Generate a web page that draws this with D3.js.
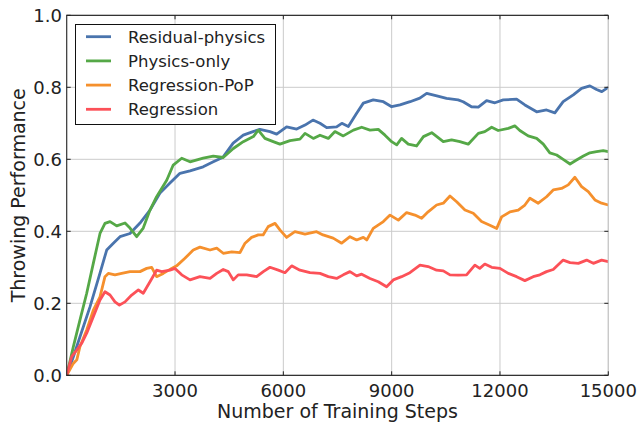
<!DOCTYPE html>
<html lang="en">
<head>
    <meta charset="UTF-8">
    <title>Throwing Performance</title>
    <script src="https://d3js.org/d3.v7.min.js"></script>
    <style>
        body, html {
            margin: 0;
            background: #fff;
        }
        text {
            font-family: "DejaVu Sans", sans-serif;
            fill: #222;
        }
        .grid line {
            stroke: #cbcbcb;
            stroke-width: 1;
        }
    </style>
</head>
<body>
<svg width="641" height="424"></svg>
<script>
    // Valores: [passo, desempenho]
    const residualPhysics = [[0,0],[180,0.05],[368,0.107],[645,0.19],[922,0.284],[1108,0.348],[1292,0.367],[1476,0.385],[1753,0.394],[2030,0.423],[2307,0.459],[2584,0.506],[2860,0.534],[3137,0.561],[3415,0.568],[3780,0.579],[4060,0.593],[4330,0.606],[4610,0.645],[4890,0.667],[5160,0.677],[5350,0.683],[5630,0.677],[5815,0.670],[6090,0.690],[6370,0.684],[6600,0.695],[6820,0.709],[7015,0.70],[7200,0.688],[7475,0.69],[7620,0.70],[7800,0.691],[8030,0.728],[8215,0.756],[8490,0.765],[8770,0.76],[9000,0.746],[9230,0.751],[9510,0.76],[9780,0.77],[9970,0.783],[10250,0.776],[10520,0.769],[10840,0.765],[10980,0.76],[11210,0.746],[11400,0.745],[11630,0.763],[11860,0.757],[12090,0.765],[12460,0.767],[12690,0.751],[13015,0.732],[13290,0.737],[13520,0.729],[13750,0.76],[14030,0.779],[14260,0.797],[14490,0.804],[14675,0.794],[14820,0.788],[15000,0.80]];
    const physicsOnly = [[0,0],[183,0.079],[368,0.154],[554,0.228],[737,0.311],[922,0.394],[1060,0.422],[1200,0.427],[1385,0.415],[1615,0.423],[1753,0.409],[1938,0.385],[2120,0.409],[2307,0.459],[2490,0.496],[2770,0.542],[2950,0.584],[3185,0.603],[3415,0.593],[3780,0.603],[4060,0.609],[4335,0.605],[4615,0.63],[4890,0.649],[5170,0.663],[5305,0.681],[5490,0.658],[5720,0.649],[5905,0.642],[6185,0.652],[6460,0.656],[6600,0.672],[6830,0.658],[7015,0.667],[7245,0.658],[7430,0.677],[7660,0.665],[7940,0.681],[8170,0.689],[8400,0.681],[8630,0.683],[8815,0.667],[9000,0.649],[9140,0.64],[9275,0.658],[9460,0.642],[9690,0.637],[9880,0.663],[10110,0.674],[10430,0.649],[10660,0.654],[10890,0.649],[11120,0.642],[11400,0.672],[11580,0.677],[11770,0.689],[11950,0.68],[12230,0.686],[12410,0.693],[12550,0.68],[12780,0.665],[13015,0.658],[13200,0.642],[13380,0.618],[13570,0.612],[13750,0.60],[13940,0.587],[14120,0.598],[14310,0.609],[14490,0.618],[14675,0.621],[14860,0.624],[15000,0.621]];
    const regressionPoP = [[0,0],[183,0.033],[280,0.043],[368,0.08],[554,0.126],[737,0.181],[922,0.218],[1060,0.274],[1152,0.283],[1337,0.279],[1523,0.283],[1753,0.288],[2030,0.288],[2215,0.297],[2354,0.30],[2490,0.274],[2675,0.283],[2907,0.297],[3045,0.304],[3275,0.325],[3505,0.348],[3690,0.356],[3970,0.348],[4155,0.353],[4335,0.339],[4570,0.343],[4800,0.341],[4940,0.367],[5120,0.383],[5305,0.39],[5440,0.39],[5580,0.413],[5770,0.422],[5905,0.404],[6090,0.383],[6320,0.399],[6600,0.392],[6920,0.399],[7100,0.39],[7380,0.381],[7615,0.367],[7845,0.385],[8030,0.376],[8215,0.383],[8310,0.376],[8490,0.408],[8770,0.427],[8955,0.445],[9185,0.431],[9415,0.452],[9645,0.445],[9830,0.436],[10010,0.454],[10245,0.473],[10430,0.478],[10615,0.498],[10800,0.482],[11030,0.459],[11260,0.45],[11490,0.427],[11720,0.417],[11910,0.408],[12045,0.44],[12275,0.454],[12505,0.459],[12690,0.473],[12830,0.492],[13060,0.478],[13290,0.496],[13475,0.515],[13705,0.519],[13890,0.529],[14075,0.55],[14260,0.524],[14445,0.51],[14630,0.487],[14815,0.478],[15000,0.473]];
    const regression = [[0,0],[138,0.052],[277,0.07],[415,0.089],[554,0.117],[737,0.163],[922,0.209],[1060,0.232],[1200,0.223],[1337,0.204],[1460,0.195],[1615,0.204],[1800,0.223],[1985,0.237],[2120,0.228],[2307,0.26],[2490,0.292],[2630,0.288],[2860,0.292],[3000,0.297],[3185,0.279],[3415,0.265],[3690,0.274],[3970,0.269],[4155,0.283],[4335,0.294],[4475,0.288],[4615,0.265],[4750,0.279],[4985,0.279],[5260,0.274],[5445,0.288],[5630,0.30],[5860,0.292],[6045,0.285],[6230,0.304],[6460,0.292],[6737,0.285],[7015,0.283],[7245,0.274],[7475,0.269],[7660,0.279],[7845,0.288],[8030,0.276],[8170,0.281],[8400,0.269],[8630,0.26],[8860,0.246],[9045,0.265],[9275,0.274],[9505,0.285],[9785,0.306],[10010,0.302],[10245,0.292],[10430,0.29],[10615,0.279],[10840,0.278],[11075,0.279],[11305,0.306],[11440,0.297],[11580,0.309],[11770,0.30],[12000,0.297],[12230,0.283],[12460,0.274],[12690,0.263],[12920,0.274],[13105,0.279],[13290,0.288],[13475,0.294],[13750,0.32],[13940,0.313],[14170,0.311],[14400,0.32],[14585,0.311],[14815,0.32],[15000,0.316]];

    const seriesNames = ["Residual-physics", "Physics-only", "Regression-PoP", "Regression"];
    const seriesColors = ["#4a74ad", "#55a847", "#f5902d", "#fc5158"];
    const xTicks = [3000, 6000, 9000, 12000, 15000];
    const yTicks = [0, 0.2, 0.4, 0.6, 0.8, 1.0];

    const series = [residualPhysics, physicsOnly, regressionPoP, regression];

    const svg = d3.select("svg");
    const mLeft = 66.7, mRight = 608.3, mTop = 15.3, mBottom = 375.3;

    const x = d3.scaleLinear().domain([0, 15000]).range([mLeft, mRight]);
    const y = d3.scaleLinear().domain([0, 1]).range([mBottom, mTop]);

    // Grade
    const grid = svg.append("g").attr("class", "grid");
    grid.selectAll(".gx").data(xTicks).enter().append("line")
        .attr("x1", d => x(d)).attr("x2", d => x(d))
        .attr("y1", mTop).attr("y2", mBottom);
    grid.selectAll(".gy").data(yTicks).enter().append("line")
        .attr("x1", mLeft).attr("x2", mRight)
        .attr("y1", d => y(d)).attr("y2", d => y(d));

    // Linhas
    svg.append("clipPath").attr("id", "clip")
        .append("rect").attr("x", mLeft).attr("y", mTop)
        .attr("width", mRight - mLeft).attr("height", mBottom - mTop);

    const line = d3.line().x(d => x(d[0])).y(d => y(d[1]));
    svg.append("g").attr("clip-path", "url(#clip)")
        .selectAll("path").data(series).enter().append("path")
        .attr("d", line)
        .attr("fill", "none")
        .attr("stroke", (d, i) => seriesColors[i])
        .attr("stroke-width", 2.8)
        .attr("stroke-linejoin", "round");

    // Moldura
    svg.append("line").attr("x1", mRight).attr("x2", mRight).attr("y1", mTop).attr("y2", mBottom)
        .attr("stroke", "#c8c8c8").attr("stroke-width", 1.2);
    svg.append("path")
        .attr("d", `M${mRight},${mTop}H${mLeft}V${mBottom}H${mRight}`)
        .attr("fill", "none").attr("stroke", "#333").attr("stroke-width", 1.2);

    // Marcas para dentro
    const tk = svg.append("g").attr("stroke", "#222").attr("stroke-width", 1);
    xTicks.forEach(t => {
        tk.append("line").attr("x1", x(t)).attr("x2", x(t)).attr("y1", mBottom).attr("y2", mBottom - 4);
        tk.append("line").attr("x1", x(t)).attr("x2", x(t)).attr("y1", mTop).attr("y2", mTop + 4);
    });
    yTicks.forEach(t => {
        tk.append("line").attr("x1", mLeft).attr("x2", mLeft + 4).attr("y1", y(t)).attr("y2", y(t));
        tk.append("line").attr("x1", mRight).attr("x2", mRight - 4).attr("y1", y(t)).attr("y2", y(t));
    });

    // Rótulos dos eixos
    svg.selectAll(".xl").data(xTicks).enter().append("text")
        .attr("x", d => x(d)).attr("y", 397)
        .attr("text-anchor", "middle").attr("font-size", 18)
        .text(d => d);
    svg.selectAll(".yl").data(yTicks).enter().append("text")
        .attr("x", 62).attr("y", d => y(d) + 6.5)
        .attr("text-anchor", "end").attr("font-size", 18)
        .text(d => d.toFixed(1));

    svg.append("text").attr("x", (mLeft + mRight) / 2).attr("y", 418)
        .attr("text-anchor", "middle").attr("font-size", 19)
        .text("Number of Training Steps");
    svg.append("text")
        .attr("transform", `translate(25,${(mTop + mBottom) / 2}) rotate(-90)`)
        .attr("text-anchor", "middle").attr("font-size", 19)
        .text("Throwing Performance");

    // Legenda
    const lg = svg.append("g");
    lg.append("rect").attr("x", 75.5).attr("y", 24.5).attr("width", 200).attr("height", 100)
        .attr("fill", "#fff").attr("stroke", "#111").attr("stroke-width", 1);
    seriesNames.forEach((name, i) => {
        const ly = 36.7 + i * 24.2;
        lg.append("line").attr("x1", 86).attr("x2", 111).attr("y1", ly).attr("y2", ly)
            .attr("stroke", seriesColors[i]).attr("stroke-width", 2.8);
        lg.append("text").attr("x", 128).attr("y", ly + 5.8).attr("font-size", 16.5).text(name);
    });
</script>
</body>
</html>
